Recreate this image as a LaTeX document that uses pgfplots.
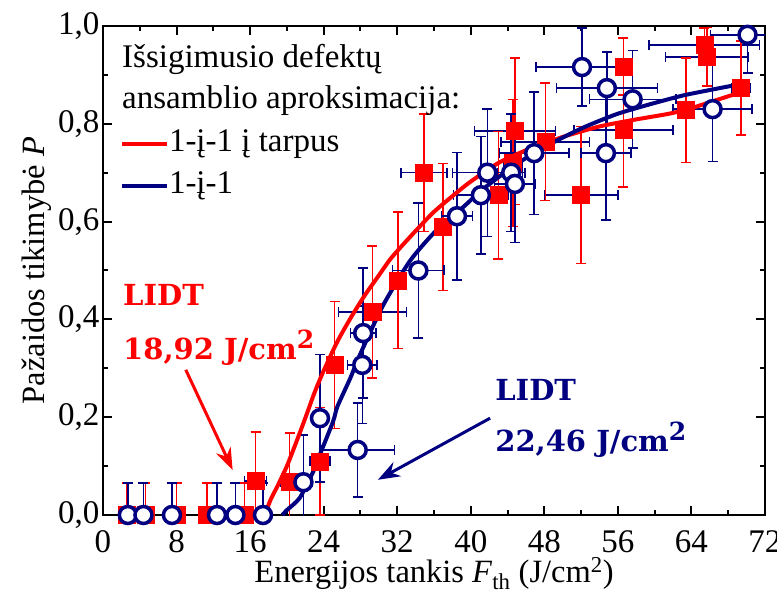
\documentclass[border=0pt]{standalone}
\usepackage{pgfplots}
\pgfplotsset{compat=1.18}
\usepackage{pgfplotstable}
\usetikzlibrary{arrows.meta}
\usepackage{fontspec}
\setmainfont{Liberation Serif}
\newfontfamily\lidtfont{DejaVu Serif}
\definecolor{myred}{RGB}{255,0,0}
\definecolor{mynavy}{RGB}{0,0,128}

\pgfplotstableread{
x y ex ey
2.6 0 0 0.065
4.6 0 0 0.065
8.0 0 0 0.065
11.3 0 0 0.065
15.4 0 0 0.065
16.6 0.070 1.2 0.10
20.3 0.068 1.0 0.10
23.6 0.110 1.1 0.11
25.2 0.307 0.5 0.13
29.3 0.415 3.7 0.135
32.1 0.480 0.5 0.14
34.9 0.700 2.5 0.12
37.0 0.589 0.5 0.13
43.0 0.654 0.5 0.13
44.6 0.720 1.0 0.13
44.8 0.785 4.4 0.15
48.1 0.763 4.8 0.12
52.0 0.654 4.0 0.14
56.6 0.917 0.5 0.058
56.6 0.787 5.4 0.116
63.4 0.828 0 0.107
65.4 0.961 6.0 0.035
65.7 0.937 4.5 0.06
69.4 0.873 1.0 0.096
}\reddata

\pgfplotstableread{
x y ex ey
2.7 0 0 0.065
4.4 0 0 0.065
7.5 0 0 0.065
12.4 0 0 0.065
14.4 0 0 0.065
17.4 0 0 0.065
21.8 0.067 1.0 0.097
23.6 0.198 0.5 0.13
27.7 0.133 4.0 0.096
28.2 0.307 1.6 0.12
28.3 0.372 1.4 0.133
34.3 0.500 2.8 0.138
38.5 0.611 1.7 0.13
41.1 0.654 3.0 0.12
41.8 0.700 3.8 0.13
44.4 0.700 1.5 0.12
44.8 0.677 2.2 0.12
46.9 0.740 3.8 0.125
52.1 0.916 5.0 0.08
54.8 0.873 5.5 0.074
54.7 0.740 2.7 0.137
57.6 0.850 4.7 0.10
66.3 0.830 4.3 0.107
70.1 0.982 4.0 0.078
}\bluedata

\pgfplotstableread{
x y
17.6 0
18.2 0.03
19.0 0.06
20.0 0.10
21.0 0.148
22.0 0.198
23.0 0.25
24.0 0.295
25.5 0.355
27.0 0.405
28.5 0.45
30.0 0.49
31.2 0.522
32.3 0.546
34.2 0.585
36.0 0.620
38.0 0.652
40.0 0.682
43.2 0.722
46.8 0.752
50.5 0.776
54.1 0.795
57.7 0.808
61.4 0.820
63.5 0.829
65.0 0.838
69.6 0.866
}\redfit

\pgfplotstableread{
x y
19.5 0
20.0 0.010
21.4 0.035
22.9 0.090
23.3 0.110
25.0 0.190
25.5 0.222
26.9 0.280
28.0 0.330
30.5 0.430
33.4 0.520
36.3 0.583
39.2 0.630
41.3 0.666
45.0 0.718
48.6 0.758
52.2 0.792
55.9 0.820
59.5 0.840
63.1 0.858
66.8 0.872
69.9 0.883
}\bluefit

\begin{document}
\begin{tikzpicture}
\begin{axis}[
  width=662pt, height=489pt, scale only axis,
  xmin=0, xmax=72, ymin=0, ymax=1,
  xtick={0,8,...,72}, minor x tick num=1,
  ytick={0,0.2,0.4,0.6,0.8,1.0}, minor y tick num=1,
  tick align=inside, xtick pos=both, ytick pos=both,
  major tick length=9pt, minor tick length=5pt,
  every tick/.style={black, line width=2pt},
  axis line style={line width=2.5pt},
  tick label style={font=\fontsize{33}{38}\selectfont},
  x tick label style={yshift=-12pt},
  label style={font=\fontsize{32.5}{38}\selectfont},
  xlabel style={at={(axis description cs:0.5,0)}, anchor=base, yshift=-67pt},
  ylabel style={xshift=0pt},
  /pgf/number format/assume math mode=true,
  y tick label style={/pgf/number format/.cd, use comma, fixed, fixed zerofill, precision=1},
  xlabel={Energijos tankis \textit{F}\textsubscript{th} (J/cm\textsuperscript{2})},
  ylabel={Pažaidos tikimybė \textit{P}},
  legend style={draw=none, fill=none, inner sep=0pt, outer sep=0pt,
    at={(axis cs:1.85,0.789)}, anchor=north west,
    font=\fontsize{33}{38}\selectfont,
    nodes={inner sep=0pt, text height=22pt, text depth=8pt},
    row sep=12pt},
  legend cell align=left,
  legend image code/.code={\draw[#1, line width=4pt] (0pt,0pt) -- (45pt,0pt);},
  every odd column/.append style={column sep=12pt},
]
\coordinate (O) at (rel axis cs:0,0);
% red x error bars (navy)
\addplot[forget plot, draw=none, mark=none,
  error bars/.cd, x dir=both, x explicit, error mark=-,
  error bar style={line width=1.5pt, mynavy},
  error mark options={rotate=90, line width=1.5pt, mark size=5pt, mynavy}]
  table[x=x, y=y, x error=ex] {\reddata};
% red y error bars + squares
\addplot[forget plot, only marks, mark=square*, mark size=8.5pt,
  mark options={fill=myred, draw=myred, rounded corners=2pt},
  error bars/.cd, y dir=both, y explicit, error mark=-,
  error bar style={line width=1.5pt, myred},
  error mark options={rotate=90, line width=1.5pt, mark size=5pt, myred}]
  table[x=x, y=y, y error=ey] {\reddata};
% blue error bars
\addplot[forget plot, draw=none, mark=none,
  error bars/.cd, x dir=both, x explicit, y dir=both, y explicit, error mark=-,
  error bar style={line width=1.5pt, mynavy},
  error mark options={rotate=90, line width=1.5pt, mark size=5pt, mynavy}]
  table[x=x, y=y, x error=ex, y error=ey] {\bluedata};
% fits
\addplot[myred, line width=4pt, smooth, tension=0.4] table[x=x,y=y] {\redfit};
\addlegendentry{1-į-1 į tarpus}
\addplot[mynavy, line width=4pt, smooth, tension=0.4] table[x=x,y=y] {\bluefit};
\addlegendentry{1-į-1}
% blue circles
\addplot[forget plot, only marks, mark=*, mark size=8.5pt,
  mark options={fill=white, draw=mynavy, line width=3.5pt}]
  table[x=x, y=y] {\bluedata};

\node[anchor=base west, font=\fontsize{33}{38}\selectfont, inner sep=0pt] at (axis cs:2.07,0.916) {Išsigimusio defektų};
\node[anchor=base west, font=\fontsize{33}{38}\selectfont, inner sep=0pt] at (axis cs:2.07,0.832) {ansamblio aproksimacija:};

\node[anchor=base west, inner sep=0pt, text=myred, font=\lidtfont\bfseries\fontsize{29}{34}\selectfont] at (axis cs:2.18,0.429) {LIDT};
\node[anchor=base west, inner sep=0pt, text=myred, font=\lidtfont\bfseries\fontsize{29}{34}\selectfont] at (axis cs:2.18,0.317) {18,92 J/cm\raisebox{0.38em}{\fontsize{25}{30}\selectfont 2}};
\node[anchor=base west, inner sep=0pt, text=mynavy, font=\lidtfont\bfseries\fontsize{29}{34}\selectfont] at (axis cs:42.65,0.235) {LIDT};
\node[anchor=base west, inner sep=0pt, text=mynavy, font=\lidtfont\bfseries\fontsize{29}{34}\selectfont] at (axis cs:42.65,0.129) {22,46 J/cm\raisebox{0.38em}{\fontsize{25}{30}\selectfont 2}};

\draw[myred, line width=3pt, -{Stealth[length=22pt, width=16pt]}] (axis cs:9.0,0.297) -- (axis cs:14.1,0.092);
\draw[mynavy, line width=3pt, -{Stealth[length=22pt, width=16pt]}] (axis cs:42.1,0.198) -- (axis cs:29.9,0.072);
\end{axis}
\pgfresetboundingbox
\path[use as bounding box] (O) ++(-103pt,-80pt) rectangle ++(777pt,595pt);
\end{tikzpicture}
\end{document}
